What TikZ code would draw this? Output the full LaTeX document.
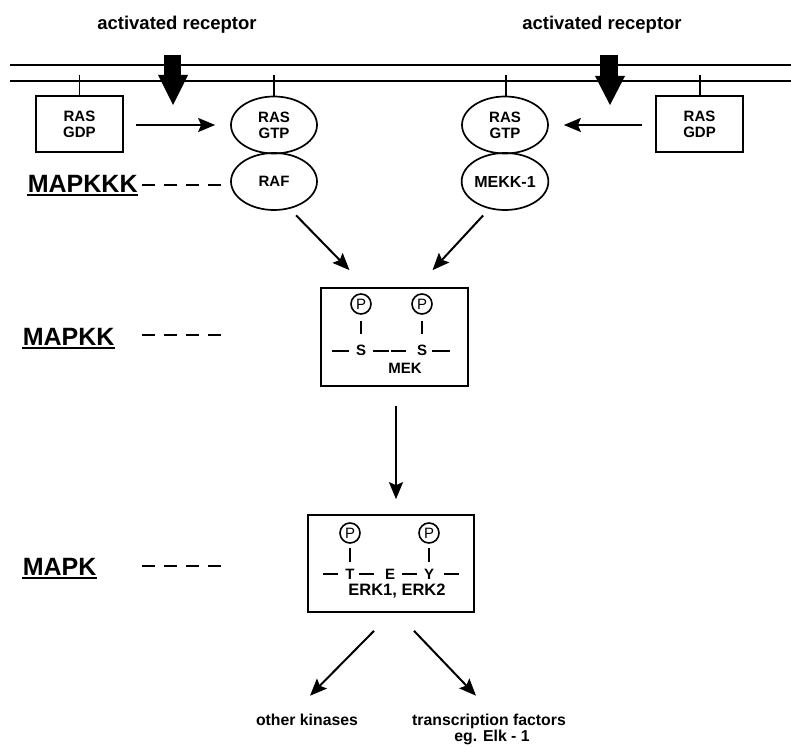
\documentclass[tikz,border=0pt]{standalone}
\usepackage{fontspec}
\setmainfont{Liberation Sans}
\usetikzlibrary{shapes.geometric,arrows.meta}
\begin{document}
\begin{tikzpicture}[x=1pt,y=-1pt,line width=1.7pt,
  arr/.style={line width=2pt,-{Stealth[length=17pt,width=14pt,inset=3pt]}},
  small/.style={font=\fontsize{15}{16}\selectfont\bfseries,align=center},
  rasbox/.style={draw,small,minimum width=87pt,minimum height=56pt,inner sep=0pt},
  oval/.style={draw,ellipse,small,minimum width=86pt,minimum height=57pt,inner sep=0pt},
  big/.style={font=\fontsize{25}{28}\selectfont\bfseries,inner sep=0pt,anchor=base west},
  title/.style={font=\fontsize{18.5}{20}\selectfont\bfseries,inner sep=0pt,anchor=base},
  bottom/.style={font=\fontsize{15.8}{17}\selectfont\bfseries,inner sep=0pt,anchor=base},
  pc/.style={draw,circle,line width=1.6pt,minimum size=20pt,inner sep=0pt,font=\fontsize{15}{15}\selectfont},
  res/.style={font=\fontsize{15}{15}\selectfont\bfseries,inner sep=0pt},
  bond/.style={line width=2pt},
  kbox/.style={draw,inner sep=0pt},
  dsh/.style={dash pattern=on 13pt off 9pt}
]
\fill[white] (0,0) rectangle (791,746);
\useasboundingbox (0,0) rectangle (791,746);

% titles
\node[title] (tL) at (177,30) {activated receptor};
\node[title] (tR) at (602,30) {activated receptor};

% membrane
\coordinate (m1a) at (10,65); \coordinate (m1b) at (791,65);
\coordinate (m2a) at (10,81); \coordinate (m2b) at (791,81);
\draw[line width=2pt] (m1a) -- (m1b);
\draw[line width=2pt] (m2a) -- (m2b);

% receptor arrows
\fill (164,55) rectangle (181,76);
\fill (158,75) -- (188,75) -- (173,105) -- cycle;
\fill (600,55) rectangle (618,78);
\fill (595,76) -- (625,76) -- (610,105) -- cycle;

% RAS nodes
\node[rasbox] (gdpL) at (79.5,124) {RAS\\GDP};
\node[rasbox] (gdpR) at (699.5,124) {RAS\\GDP};
\node[oval] (gtpL) at (274,125) {RAS\\GTP};
\node[oval] (raf) at (274,181.5) {RAF};
\node[oval] (gtpR) at (505,125) {RAS\\GTP};
\node[oval,font=\fontsize{16}{17}\selectfont\bfseries] (mekk) at (505,181.5) {MEKK-1};

% anchors to membrane
\coordinate (a1) at (79.5,75); \coordinate (a2) at (274,75);
\coordinate (a3) at (506,75);  \coordinate (a4) at (700,75);
\draw (a1) -- (gdpL.north);
\draw (a2) -- (gtpL.north);
\draw (a3) -- (gtpR.north -| a3);
\draw (a4) -- (gdpR.north -| a4);

% GDP -> GTP
\draw[arr,shorten <=12pt,shorten >=15pt] ([yshift=-1pt]gdpL.east) -- (gtpL.west);
\draw[arr,shorten <=13pt,shorten >=15pt] ([yshift=-1pt]gdpR.west) -- (gtpR.east);

% level labels
\node[big] (l1) at (27,192) {MAPKKK};
\node[big] (l2) at (22,345) {MAPKK};
\node[big] (l3) at (22,575) {MAPK};
\foreach \n in {l1,l2,l3}{
  \draw[line width=2pt] ([yshift=-2.5pt]\n.base west) -- ([yshift=-2.5pt]\n.base east);
}
\coordinate (d1a) at (142,185); \coordinate (d1b) at (221,185);
\coordinate (d2a) at (142,335); \coordinate (d2b) at (221,335);
\coordinate (d3a) at (142,566); \coordinate (d3b) at (221,566);
\draw[dsh,line width=2pt] (d1a) -- (d1b);
\draw[dsh,line width=2pt] (d2a) -- (d2b);
\draw[dsh,line width=2pt] (d3a) -- (d3b);

% MEK box
\node[kbox,minimum width=147pt,minimum height=98pt] (mek) at (394.5,337) {};
\node[pc] (p1) at (361,304) {P};
\node[pc] (p2) at (422,304) {P};
\node[res] (s1) at (361,350.5) {S};
\node[res] (s2) at (422,350.5) {S};
\node[res] (mekt) at (405,368) {MEK};
\draw[bond] ([yshift=-6pt]p1.south) -- ++(0,13);
\draw[bond] ([yshift=-6pt]p2.south) -- ++(0,13);
\draw[bond] ([xshift=-6pt]s1.west) -- ++(-17,0);
\draw[bond] ([xshift=6pt]s1.east) -- ++(16,0);
\draw[bond] ([xshift=-10pt]s2.west) -- ++(-15,0);
\draw[bond] ([xshift=4pt]s2.east) -- ++(18,0);

% raf/mekk -> mek
\draw[arr,shorten <=9pt] (raf.-60) -- ([xshift=-45pt,yshift=17pt]mek.north);
\draw[arr,shorten <=9pt] (mekk.240) -- ([xshift=38pt,yshift=17pt]mek.north);

% ERK box
\node[kbox,minimum width=166pt,minimum height=97pt] (erk) at (391,563.5) {};
\node[pc] (p3) at (350,533) {P};
\node[pc] (p4) at (429,533) {P};
\node[res] (rt) at (350,574) {T};
\node[res] (re) at (390,574) {E};
\node[res] (ry) at (429,574) {Y};
\node[res,font=\fontsize{16.5}{17}\selectfont\bfseries] (erkt) at (397,591) {ERK1, ERK2};
\draw[bond] ([yshift=-4pt]p3.south) -- ++(0,14);
\draw[bond] ([yshift=-4pt]p4.south) -- ++(0,14);
\draw[bond] ([xshift=-7pt]rt.west) -- ++(-15,0);
\draw[bond] ([xshift=4pt]rt.east) -- ++(15,0);
\draw[bond] ([xshift=-6pt]ry.west) -- ++(-15,0);
\draw[bond] ([xshift=9pt]ry.east) -- ++(15,0);

% mek -> erk
\draw[arr] ([xshift=1.5pt,yshift=-19pt]mek.south) -- ([xshift=5pt,yshift=15pt]erk.north);

% outputs
\node[bottom] (ok) at (307,725) {other kinases};
\node[bottom] (tf) at (489,725) {transcription factors};
\node[bottom] (eg) at (492,741) {eg. Elk - 1};
\draw[arr] ([xshift=-17pt,yshift=-18pt]erk.south) -- ([xshift=3pt,yshift=17pt]ok.north);
\draw[arr] ([xshift=23pt,yshift=-18pt]erk.south) -- ([xshift=-13pt,yshift=17pt]tf.north);
\end{tikzpicture}
\end{document}
